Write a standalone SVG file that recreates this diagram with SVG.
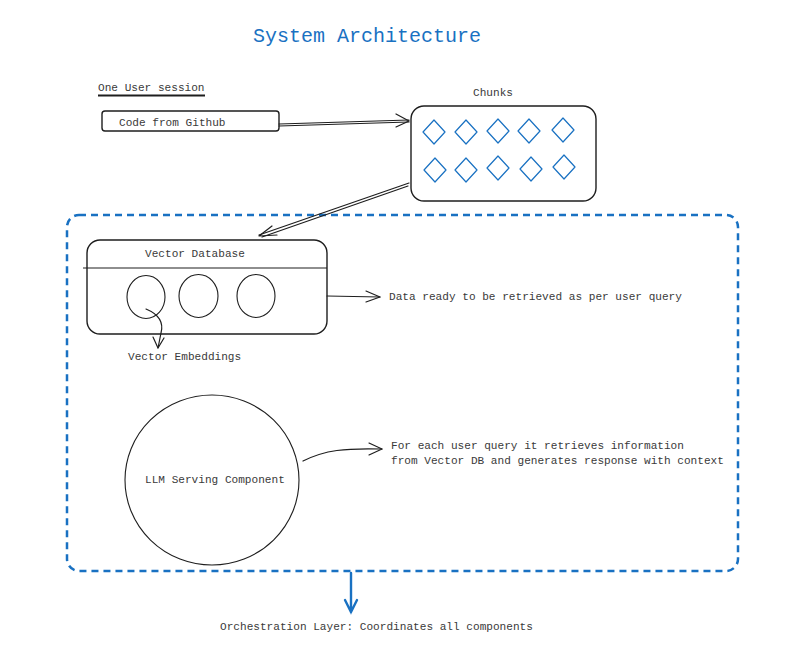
<svg xmlns="http://www.w3.org/2000/svg" width="794" height="657" viewBox="0 0 794 657">
<style>
  .t { font-family: "Liberation Mono", "DejaVu Sans Mono", monospace; font-size: 11.1px; fill: #3a3a3a; }
  .title { font-family: "Liberation Mono", "DejaVu Sans Mono", monospace; font-size: 20px; fill: #1971c2; }
  .box { fill: none; stroke: #1e1e1e; stroke-width: 1.4; }
  .thin { fill: none; stroke: #1e1e1e; stroke-width: 1.1; }
  .dia { fill: none; stroke: #1971c2; stroke-width: 1.2; stroke-linejoin: round; }
  .ln { fill: none; stroke: #1e1e1e; stroke-width: 1.2; stroke-linecap: round; stroke-linejoin: round; }
  .blue { fill: none; stroke: #1971c2; stroke-width: 2.4; stroke-linecap: round; }
</style>
<rect width="794" height="657" fill="#ffffff"/>

<g id="title"><text class="title" x="253" y="42">System Architecture</text></g>

<g id="session-label">
  <text class="t" x="98" y="91">One User session</text>
  <line x1="98" y1="95.5" x2="205" y2="95.5" stroke="#1e1e1e" stroke-width="2"/>
</g>

<g id="code-github">
  <rect class="box" x="102" y="111" width="177" height="20" rx="3"/>
  <text class="t" x="119" y="126">Code from Github</text>
</g>

<g id="chunks">
  <text class="t" x="473" y="96">Chunks</text>
  <rect class="box" x="411" y="106" width="185" height="95" rx="13"/>
  <path class="dia" d="M434 120 L445 132 L434 144 L423 132 Z"/>
  <path class="dia" d="M466 120 L477 132 L466 144 L455 132 Z"/>
  <path class="dia" d="M498 119 L509 131 L498 143 L487 131 Z"/>
  <path class="dia" d="M529 119 L540 131 L529 143 L518 131 Z"/>
  <path class="dia" d="M563 118 L574 130 L563 142 L552 130 Z"/>
  <path class="dia" d="M435 158 L446 170 L435 182 L424 170 Z"/>
  <path class="dia" d="M466 158 L477 170 L466 182 L455 170 Z"/>
  <path class="dia" d="M498 156 L509 168 L498 180 L487 168 Z"/>
  <path class="dia" d="M531 157 L542 169 L531 181 L520 169 Z"/>
  <path class="dia" d="M564 155 L575 167 L564 179 L553 167 Z"/>
</g>

<g id="orchestration">
  <rect x="67" y="215" width="671" height="356" rx="12" fill="none" stroke="#1971c2" stroke-width="2.5" stroke-dasharray="7 5"/>
  <text class="t" x="220" y="630">Orchestration Layer: Coordinates all components</text>
</g>

<g id="vector-db">
  <rect class="box" x="87" y="240" width="240" height="94" rx="13"/>
  <line class="thin" x1="83" y1="268" x2="327" y2="268"/>
  <text class="t" x="145" y="257">Vector Database</text>
  <ellipse class="thin" cx="146" cy="297" rx="19" ry="21.5"/>
  <ellipse class="thin" cx="198.5" cy="296" rx="19.5" ry="21.5"/>
  <ellipse class="thin" cx="256" cy="296" rx="19" ry="21.5"/>
  <text class="t" x="128" y="360">Vector Embeddings</text>
</g>

<g id="vdb-note"><text class="t" x="389" y="300">Data ready to be retrieved as per user query</text></g>

<g id="llm">
  <ellipse class="thin" cx="212" cy="480" rx="87" ry="85"/>
  <text class="t" x="145" y="483">LLM Serving Component</text>
</g>

<g id="llm-note">
  <text class="t" x="391" y="449">For each user query it retrieves information</text>
  <text class="t" x="391" y="464">from Vector DB and generates response with context</text>
</g>

<g id="connectors">
  <path class="ln" d="M279 124 L409 120 M279 126 L409 122"/>
  <path class="ln" d="M396 114 L409 121 L396 127"/>
  <path class="ln" d="M409 183 L259 235 M408 186 L262 237"/>
  <path class="ln" d="M272 226 L259 236 L277 235"/>
  <path class="ln" d="M146 309 C158 314 164 322 161 333 C160 338 159 343 158 348"/>
  <path class="ln" d="M153 337 L158 348 L164 338"/>
  <path class="ln" d="M327 296 L380 297"/>
  <path class="ln" d="M366 291 L380 297 L366 302"/>
  <path class="ln" d="M303 461 C325 450 345 448 382 449"/>
  <path class="ln" d="M369 443 L382 449 L369 455"/>
  <path class="blue" d="M351 573 L351 612 M345 600 L351 612 L357 600"/>
</g>
</svg>
